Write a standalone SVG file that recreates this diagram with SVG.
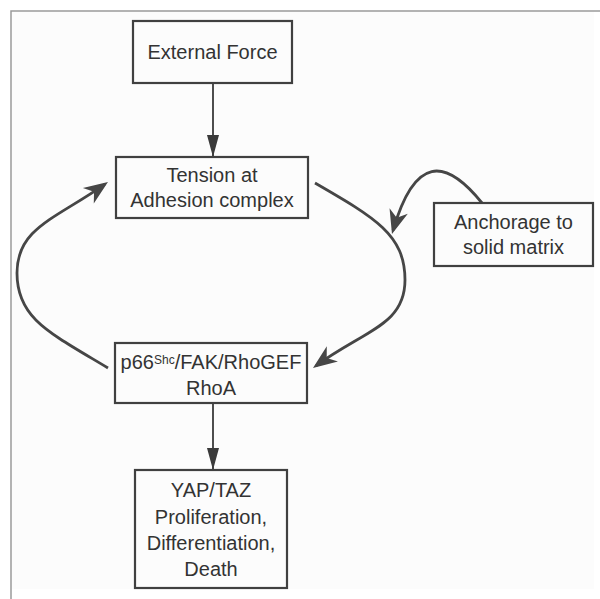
<svg xmlns="http://www.w3.org/2000/svg" width="600" height="599" viewBox="0 0 600 599">
  <style>
    .box { fill: #fcfcfc; stroke: #404040; stroke-width: 2.2; }
    .lbl { font-family: "Liberation Sans", Arial, sans-serif; font-size: 20px; fill: #333333; text-anchor: middle; }
    .sup { font-size: 12px; }
    .straight { fill: none; stroke: #3a3a3a; stroke-width: 1.8; marker-end: url(#arrowNarrow); }
    .curve { fill: none; stroke: #464646; stroke-width: 2.8; stroke-linecap: butt; }
    .curve.head { marker-end: url(#arrowBarb); }
  </style>
  <defs>
    <marker id="arrowNarrow" markerUnits="userSpaceOnUse" viewBox="-24 -8 28 16" markerWidth="28" markerHeight="16" refX="-1" refY="0" orient="auto" overflow="visible">
      <polygon points="0,0 -22,-6 -22,6" fill="#3a3a3a"/>
    </marker>
    <marker id="arrowBarb" markerUnits="userSpaceOnUse" viewBox="-26 -11 32 22" markerWidth="32" markerHeight="22" refX="-4" refY="0" orient="auto" overflow="visible">
      <polygon points="0,0 -24,-9.5 -17,0 -24,9.5" fill="#464646"/>
    </marker>
  </defs>

  <rect x="12" y="12" width="582" height="577" fill="#fcfcfc"/>
  <path d="M11,599 V11 H600" fill="none" stroke="#9a9a9a" stroke-width="1.5"/>

  <g id="connectors">
    <path class="straight" d="M213,83 V156"/>
    <path class="straight" d="M213,403 V469"/>
    <path class="curve head" d="M315,183 C375.6,218 405,235 405,280 C405,325 364.7,330.3 316.2,365.6"/>
    <path class="curve head" d="M108,368 C48,332 17,318 17,273 C17,228 55.6,218.7 104.7,184.3"/>
    <path class="curve head" d="M482,203 C445,157 414.6,156 393.1,230.2"/>
  </g>

  <g id="external-force">
    <rect class="box" x="133" y="21" width="159" height="62"/>
    <text class="lbl" x="212.5" y="59.3">External Force</text>
  </g>

  <g id="tension">
    <rect class="box" x="116" y="157" width="192" height="61"/>
    <text class="lbl" x="212" y="181.7">Tension at</text>
    <text class="lbl" x="212" y="207.3">Adhesion complex</text>
  </g>

  <g id="anchorage">
    <rect class="box" x="434" y="203" width="159" height="63"/>
    <text class="lbl" x="513.5" y="229">Anchorage to</text>
    <text class="lbl" x="513.5" y="254">solid matrix</text>
  </g>

  <g id="p66">
    <rect class="box" x="115" y="343" width="192" height="60"/>
    <text class="lbl" x="211" y="369.3">p66<tspan class="sup" dy="-5">Shc</tspan><tspan dy="5">/FAK/RhoGEF</tspan></text>
    <text class="lbl" x="211" y="395">RhoA</text>
  </g>

  <g id="yap-taz">
    <rect class="box" x="135" y="470" width="152" height="118"/>
    <text class="lbl" x="211" y="496.7">YAP/TAZ</text>
    <text class="lbl" x="211" y="523.5">Proliferation,</text>
    <text class="lbl" x="211" y="550">Differentiation,</text>
    <text class="lbl" x="211" y="576">Death</text>
  </g>
</svg>
